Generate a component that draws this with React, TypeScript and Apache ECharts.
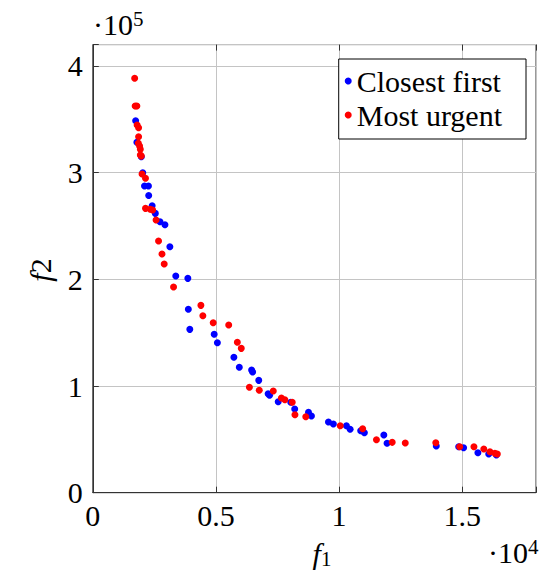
import React, { useEffect, useRef } from "react";
import * as echarts from "echarts";

// Closest first (blue)
const closestX = [1740, 1790, 1970, 2030, 2100, 2260, 2270, 2410, 2540, 2730, 2930, 3130, 3370, 3860, 3880, 3940, 4930, 5060, 5730, 5950, 6450, 6490, 6740, 7120, 7180, 7530, 8040, 8200, 8760, 8880, 9570, 9770, 10300, 10450, 10880, 11030, 11820, 11950, 13950, 14860, 15060, 15640, 16080, 16390];
const closestY = [348600, 328400, 314900, 299900, 287400, 287400, 278500, 269000, 261800, 254000, 251200, 230600, 203100, 200900, 171900, 153100, 148500, 140600, 126900, 117500, 115000, 113100, 105300, 92800, 91300, 85300, 84700, 78400, 75300, 71900, 66300, 64400, 62800, 59400, 58100, 56200, 54100, 46300, 43800, 43100, 42200, 37500, 36300, 35300];

// Most urgent (red)
const urgentX = [1700, 1720, 1790, 1800, 1860, 1860, 1850, 1900, 1930, 1930, 1970, 2000, 2140, 2140, 2330, 2430, 2570, 2670, 2810, 2900, 3280, 4390, 4470, 4890, 5520, 5870, 6030, 6360, 6760, 7330, 7660, 7800, 8100, 8210, 8650, 10050, 10960, 11520, 12160, 12690, 13930, 14900, 15480, 15880, 16130, 16330, 16430];
const urgentY = [388400, 362400, 362400, 344600, 342000, 333700, 327500, 325000, 321800, 316500, 315500, 298700, 294700, 266500, 265600, 265000, 255600, 235900, 223700, 214300, 192800, 175600, 165900, 159300, 157200, 141000, 135300, 98800, 96000, 95300, 88800, 87200, 84700, 73100, 71200, 62800, 60000, 49700, 47200, 46600, 46900, 43100, 43100, 41000, 38400, 36900, 36300];

const seriesNames = ["Closest first", "Most urgent"];
const xTicks = [0, 5000, 10000, 15000];
const yTicks = [0, 100000, 200000, 300000, 400000];

const FONT = "'Liberation Serif', 'Times New Roman', serif";
const FRAME = "#333333";
const GRIDC = "#c4c4c4";

export default function App() {
  const ref = useRef<HTMLDivElement>(null);
  useEffect(() => {
    document.body.style.margin = "0";
    const chart = echarts.init(ref.current!, null, { renderer: "svg" });
    const pairs = (xs: number[], ys: number[]) => xs.map((x, i) => [x, ys[i]]);
    const xFmt = (v: number) => (xTicks.includes(v) ? String(v / 10000) : "");
    const yFmt = (v: number) => (yTicks.includes(v) ? String(v / 100000) : "");
    const labelStyle = { fontSize: 30, fontFamily: FONT, color: "#000" };
    chart.setOption({
      animation: false,
      grid: {
        left: 92.8,
        top: 44.6,
        width: 447.7,
        height: 448.1,
        show: true,
        borderColor: FRAME,
        borderWidth: 1,
      },
      xAxis: [
        {
          type: "value",
          min: 0,
          max: 18000,
          interval: 5000,
          axisLine: { show: true, lineStyle: { color: FRAME } },
          axisTick: { show: true, inside: true, length: 6, lineStyle: { color: FRAME } },
          splitLine: { show: true, lineStyle: { color: GRIDC, width: 1 } },
          axisLabel: { ...labelStyle, formatter: xFmt, margin: 8 },
        },
        {
          type: "value",
          position: "top",
          min: 0,
          max: 18000,
          interval: 5000,
          axisLine: { show: false },
          axisTick: { show: true, inside: true, length: 6, lineStyle: { color: FRAME } },
          splitLine: { show: false },
          axisLabel: { show: false },
        },
      ],
      yAxis: [
        {
          type: "value",
          min: 0,
          max: 420000,
          interval: 100000,
          axisLine: { show: true, lineStyle: { color: FRAME } },
          axisTick: { show: true, inside: true, length: 6, lineStyle: { color: FRAME } },
          splitLine: { show: true, lineStyle: { color: GRIDC, width: 1 } },
          axisLabel: { ...labelStyle, formatter: yFmt, margin: 10 },
        },
      ],
      legend: {
        orient: "vertical",
        right: 13,
        top: 59,
        icon: "circle",
        itemWidth: 7,
        itemHeight: 7,
        itemGap: 4,
        padding: [7, 24, 9, 6],
        borderColor: "#000",
        borderWidth: 1,
        backgroundColor: "#fff",
        textStyle: { fontSize: 30, fontFamily: FONT, color: "#000", lineHeight: 28 },
        data: seriesNames,
      },
      graphic: [
        {
          type: "text",
          x: 93,
          y: 8,
          style: {
            text: "·10{s|5}",
            font: `30px ${FONT}`,
            fill: "#000",
            rich: { s: { fontSize: 21, fontFamily: FONT, verticalAlign: "top", padding: [0, 0, 12, 0] } },
          },
        },
        {
          type: "text",
          x: 488,
          y: 536,
          style: {
            text: "·10{s|4}",
            font: `30px ${FONT}`,
            fill: "#000",
            rich: { s: { fontSize: 21, fontFamily: FONT, verticalAlign: "top", padding: [0, 0, 12, 0] } },
          },
        },
        {
          type: "text",
          x: 322,
          y: 553,
          style: {
            text: "{i|f}{s|1}",
            align: "center",
            verticalAlign: "middle",
            rich: {
              i: { fontSize: 30, fontFamily: FONT, fontStyle: "italic", fill: "#000" },
              s: { fontSize: 21, fontFamily: FONT, fill: "#000", padding: [12, 0, 0, 0] },
            },
          },
        },
        {
          type: "text",
          x: 40,
          y: 270,
          rotation: Math.PI / 2,
          style: {
            text: "{i|f}{n|2}",
            align: "center",
            verticalAlign: "middle",
            rich: {
              i: { fontSize: 30, fontFamily: FONT, fontStyle: "italic", fill: "#000" },
              n: { fontSize: 30, fontFamily: FONT, fill: "#000" },
            },
          },
        },
      ],
      series: [
        {
          type: "scatter",
          name: seriesNames[0],
          data: pairs(closestX, closestY),
          symbolSize: 7,
          itemStyle: { color: "#0000ff", opacity: 1 },
        },
        {
          type: "scatter",
          name: seriesNames[1],
          data: pairs(urgentX, urgentY),
          symbolSize: 7,
          itemStyle: { color: "#ff0000", opacity: 1 },
        },
      ],
    });
    return () => chart.dispose();
  }, []);
  return <div ref={ref} style={{ width: 539, height: 573 }} />;
}
